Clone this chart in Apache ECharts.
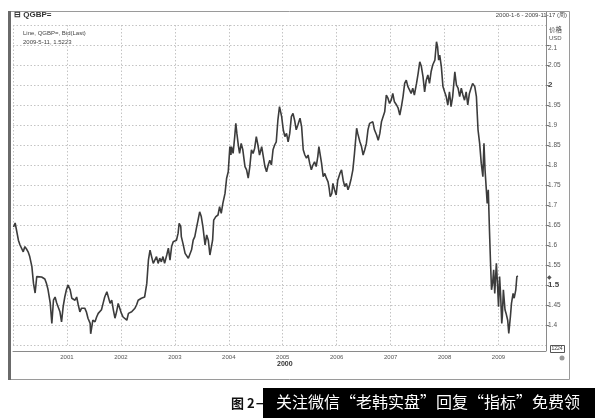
<!DOCTYPE html>
<html><head><meta charset="utf-8">
<script src="https://cdn.jsdelivr.net/npm/echarts@6/dist/echarts.min.js"></script>
<style>html,body{margin:0;padding:0;background:#fff}#c{width:595px;height:418px}</style>
</head><body><div id="c"></div>
<script>
// decimal-year dates and GBP/USD weekly closes
const dates = [2000.01,2000.04,2000.07,2000.10,2000.13,2000.19,2000.22,2000.25,2000.28,2000.31,2000.35,2000.38,2000.41,2000.44,2000.47,2000.53,2000.59,2000.62,2000.65,2000.69,2000.72,2000.75,2000.78,2000.81,2000.84,2000.87,2000.90,2000.93,2000.96,2000.99,
2001.02,2001.06,2001.09,2001.12,2001.15,2001.18,2001.21,2001.24,2001.27,2001.30,2001.33,2001.36,2001.39,2001.43,2001.44,2001.48,2001.52,2001.55,2001.58,2001.61,2001.64,2001.67,2001.70,2001.74,2001.76,2001.80,2001.83,2001.86,2001.89,2001.92,2001.95,2001.98,
2002.01,2002.04,2002.07,2002.11,2002.14,2002.17,2002.20,2002.23,2002.26,2002.29,2002.32,2002.35,2002.38,2002.41,2002.44,2002.48,2002.51,2002.54,2002.57,2002.60,2002.66,2002.69,2002.72,2002.75,2002.78,2002.81,2002.85,2002.88,2002.91,2002.94,2002.97,
2003.00,2003.03,2003.06,2003.08,2003.11,2003.12,2003.15,2003.19,2003.22,2003.25,2003.28,2003.31,2003.34,2003.37,2003.40,2003.43,2003.46,2003.49,2003.52,2003.56,2003.59,2003.62,2003.65,2003.67,2003.70,2003.72,2003.76,2003.80,2003.83,2003.86,2003.89,2003.93,2003.96,2003.99,
2004.02,2004.04,2004.05,2004.08,2004.11,2004.13,2004.15,2004.18,2004.20,2004.23,2004.26,2004.30,2004.33,2004.36,2004.39,2004.42,2004.45,2004.48,2004.51,2004.54,2004.57,2004.61,2004.64,2004.67,2004.70,2004.73,2004.76,2004.79,2004.82,2004.85,2004.88,2004.91,2004.94,2004.96,2004.98,
2005.01,2005.04,2005.07,2005.10,2005.13,2005.16,2005.19,2005.22,2005.25,2005.28,2005.32,2005.35,2005.38,2005.41,2005.44,2005.47,2005.50,2005.53,2005.56,2005.59,2005.62,2005.65,2005.67,2005.70,2005.72,2005.75,2005.78,2005.81,2005.84,2005.86,2005.88,2005.91,2005.93,2005.96,2005.99,
2006.02,2006.06,2006.09,2006.12,2006.15,2006.18,2006.21,2006.24,2006.27,2006.30,2006.33,2006.37,2006.39,2006.43,2006.46,2006.49,2006.52,2006.55,2006.58,2006.61,2006.64,2006.67,2006.70,2006.74,2006.77,2006.80,2006.83,2006.86,2006.89,2006.92,2006.95,2006.98,
2007.01,2007.04,2007.07,2007.11,2007.14,2007.17,2007.20,2007.23,2007.26,2007.29,2007.32,2007.35,2007.38,2007.41,2007.44,2007.48,2007.51,2007.54,2007.57,2007.60,2007.63,2007.66,2007.69,2007.72,2007.75,2007.78,2007.82,2007.85,2007.87,2007.89,2007.91,2007.94,2007.97,
2008.00,2008.03,2008.06,2008.09,2008.12,2008.15,2008.19,2008.22,2008.25,2008.28,2008.31,2008.34,2008.37,2008.40,2008.43,2008.46,2008.49,2008.52,2008.56,2008.59,2008.62,2008.65,2008.68,2008.71,2008.73,2008.75,2008.77,2008.79,2008.81,2008.83,2008.85,2008.87,2008.89,2008.91,2008.93,2008.96,2008.98,
2009.00,2009.02,2009.04,2009.06,2009.07,2009.09,2009.12,2009.14,2009.17,2009.19,2009.22,2009.24,2009.27,2009.29,2009.32,2009.34,2009.36];
const gbp = [1.645,1.655,1.660,1.612,1.600,1.583,1.596,1.590,1.583,1.571,1.546,1.504,1.480,1.521,1.519,1.520,1.515,1.504,1.488,1.455,1.404,1.462,1.470,1.455,1.450,1.433,1.408,1.446,1.470,1.488,
1.500,1.488,1.467,1.470,1.462,1.470,1.450,1.433,1.442,1.438,1.442,1.433,1.417,1.404,1.378,1.412,1.408,1.420,1.429,1.425,1.438,1.454,1.470,1.483,1.480,1.454,1.462,1.438,1.417,1.433,1.454,1.450,
1.429,1.420,1.425,1.412,1.429,1.425,1.433,1.429,1.442,1.450,1.462,1.467,1.467,1.462,1.470,1.504,1.562,1.587,1.583,1.554,1.571,1.554,1.567,1.558,1.571,1.554,1.575,1.592,1.562,1.596,1.608,
1.604,1.612,1.629,1.654,1.646,1.621,1.604,1.579,1.575,1.567,1.571,1.588,1.612,1.621,1.642,1.662,1.683,1.671,1.646,1.600,1.625,1.612,1.575,1.571,1.612,1.662,1.671,1.675,1.696,1.679,1.704,1.729,1.767,1.783,
1.846,1.825,1.846,1.829,1.871,1.904,1.879,1.846,1.829,1.854,1.838,1.796,1.788,1.767,1.796,1.838,1.829,1.842,1.871,1.850,1.825,1.846,1.821,1.796,1.783,1.800,1.812,1.800,1.838,1.850,1.858,1.912,1.946,1.942,1.921,
1.888,1.871,1.879,1.858,1.879,1.921,1.929,1.912,1.888,1.900,1.917,1.896,1.838,1.825,1.817,1.825,1.804,1.788,1.800,1.808,1.796,1.821,1.846,1.821,1.804,1.771,1.779,1.767,1.758,1.742,1.721,1.729,1.754,1.738,1.725,
1.762,1.779,1.788,1.762,1.746,1.754,1.738,1.750,1.767,1.788,1.829,1.892,1.879,1.858,1.846,1.825,1.838,1.854,1.888,1.904,1.900,1.908,1.888,1.875,1.862,1.879,1.908,1.904,1.933,1.975,1.967,1.954,
1.962,1.979,1.958,1.950,1.942,1.925,1.946,1.971,2.004,2.012,1.996,1.988,1.979,1.992,1.975,2.004,2.029,2.058,2.046,2.021,1.983,2.012,2.025,2.004,2.033,2.050,2.062,2.108,2.096,2.062,2.075,2.046,1.996,
1.983,1.971,1.950,1.983,1.946,1.971,2.033,2.000,1.992,1.971,1.992,1.975,1.962,1.983,1.950,1.979,1.992,2.004,1.996,1.971,1.888,1.854,1.804,1.771,1.854,1.788,1.746,1.704,1.738,1.646,1.562,1.488,1.504,1.538,1.479,1.554,1.504,
1.446,1.521,1.471,1.404,1.421,1.488,1.438,1.429,1.412,1.379,1.421,1.454,1.479,1.467,1.488,1.521,1.5223];
const yearTicks = [2001,2002,2003,2004,2005,2006,2007,2008,2009];
const boldPriceTicks = [2, 1.5];

const chart = echarts.init(document.getElementById('c'), null, {renderer:'canvas'});
const F = 'Liberation Sans, Arial, sans-serif';
const dotted = {show:true, lineStyle:{color:'#c4c4c4', type:[1.5,2], width:1}};
chart.setOption({
  animation:false,
  backgroundColor:'#fff',
  grid:{left:13, right:49, top:25, bottom:73},
  xAxis:{type:'value', min:2000, max:2009.88, interval:1, offset:6,
    axisLine:{show:true, lineStyle:{color:'#8a8a8a', width:1}},
    axisTick:{show:false},
    splitLine:dotted,
    axisLabel:{fontSize:6, color:'#555', fontFamily:F, margin:3,
      formatter:v => yearTicks.includes(Math.round(v)) ? String(Math.round(v)) : ''}},
  yAxis:{type:'value', position:'right', min:1.35, max:2.15, interval:0.05,
    axisLine:{show:true, lineStyle:{color:'#8a8a8a', width:1}},
    axisTick:{show:true, length:3, lineStyle:{color:'#777'}},
    splitLine:dotted,
    axisLabel:{fontSize:6.5, color:'#555', fontFamily:F, margin:2, showMinLabel:false, showMaxLabel:false,
      formatter:v => { const s = String(parseFloat(v.toFixed(2)));
        if (boldPriceTicks.includes(parseFloat(s))) return '{b|'+s+'}';
        if (s === '2.1') return '{t|'+s+'}';
        return s; },
      rich:{b:{fontSize:8, fontWeight:'bold', color:'#444', fontFamily:F},
            t:{fontSize:6.5, color:'#555', fontFamily:F, padding:[7,0,0,0]}}}},
  series:[{type:'line', data:dates.map((d,i)=>[d,gbp[i]]), showSymbol:false, symbol:'none',
    lineStyle:{color:'#3c3c3c', width:1.6}, z:3}],
  graphic:[
    {type:'rect', shape:{x:9.5,y:11.5,width:560,height:368}, style:{fill:null, stroke:'#9a9a9a', lineWidth:1}, silent:true},
    {type:'line', shape:{x1:9.5,y1:11,x2:9.5,y2:380}, style:{stroke:'#6a6a6a', lineWidth:3}},
    {type:'line', shape:{x1:546.5,y1:12,x2:546.5,y2:351}, style:{stroke:'#8a8a8a', lineWidth:1}},
    {type:'text', left:14, top:11, style:{text:'⊟ QGBP=', font:'bold 8px '+F, fill:'#333'}},
    {type:'text', left:23, top:30, style:{text:'Line, QGBP=, Bid(Last)', font:'6px '+F, fill:'#444'}},
    {type:'text', left:23, top:39, style:{text:'2009-5-11, 1.5223', font:'6px '+F, fill:'#444'}},
    {type:'text', right:28, top:12, style:{text:'2000-1-6 - 2009-11-17 (周)', font:'6px '+F, fill:'#444'}},
    {type:'text', left:549, top:26, style:{text:'价格', font:'6.5px Noto Sans CJK SC', fill:'#444'}},
    {type:'text', left:549, top:35, style:{text:'USD', font:'6px '+F, fill:'#555'}},
    {type:'text', left:547, top:274, style:{text:'◆', font:'6px DejaVu Sans', fill:'#555'}},
    {type:'rect', shape:{x:550.5,y:345.5,width:14,height:7}, style:{fill:'#fff', stroke:'#555', lineWidth:1}},
    {type:'text', left:551.5, top:346.5, style:{text:'1224', font:'5px '+F, fill:'#333'}},
    {type:'circle', shape:{cx:562,cy:358,r:2.5}, style:{fill:'#999'}},
    {type:'text', left:277, top:361, style:{text:'2000', font:'bold 7px '+F, fill:'#333'}},
    {type:'text', left:231, top:397, style:{text:'图 2－2', font:'bold 13px Noto Sans CJK SC', fill:'#111'}},
    {type:'rect', shape:{x:263,y:388,width:332,height:30}, style:{fill:'#000'}, z:10},
    {type:'text', left:276, top:394, z:11, style:{text:'关注微信“老韩实盘”回复“指标”免费领', font:'16px Noto Sans CJK SC', fill:'#fff'}}
  ]
});
</script></body></html>
